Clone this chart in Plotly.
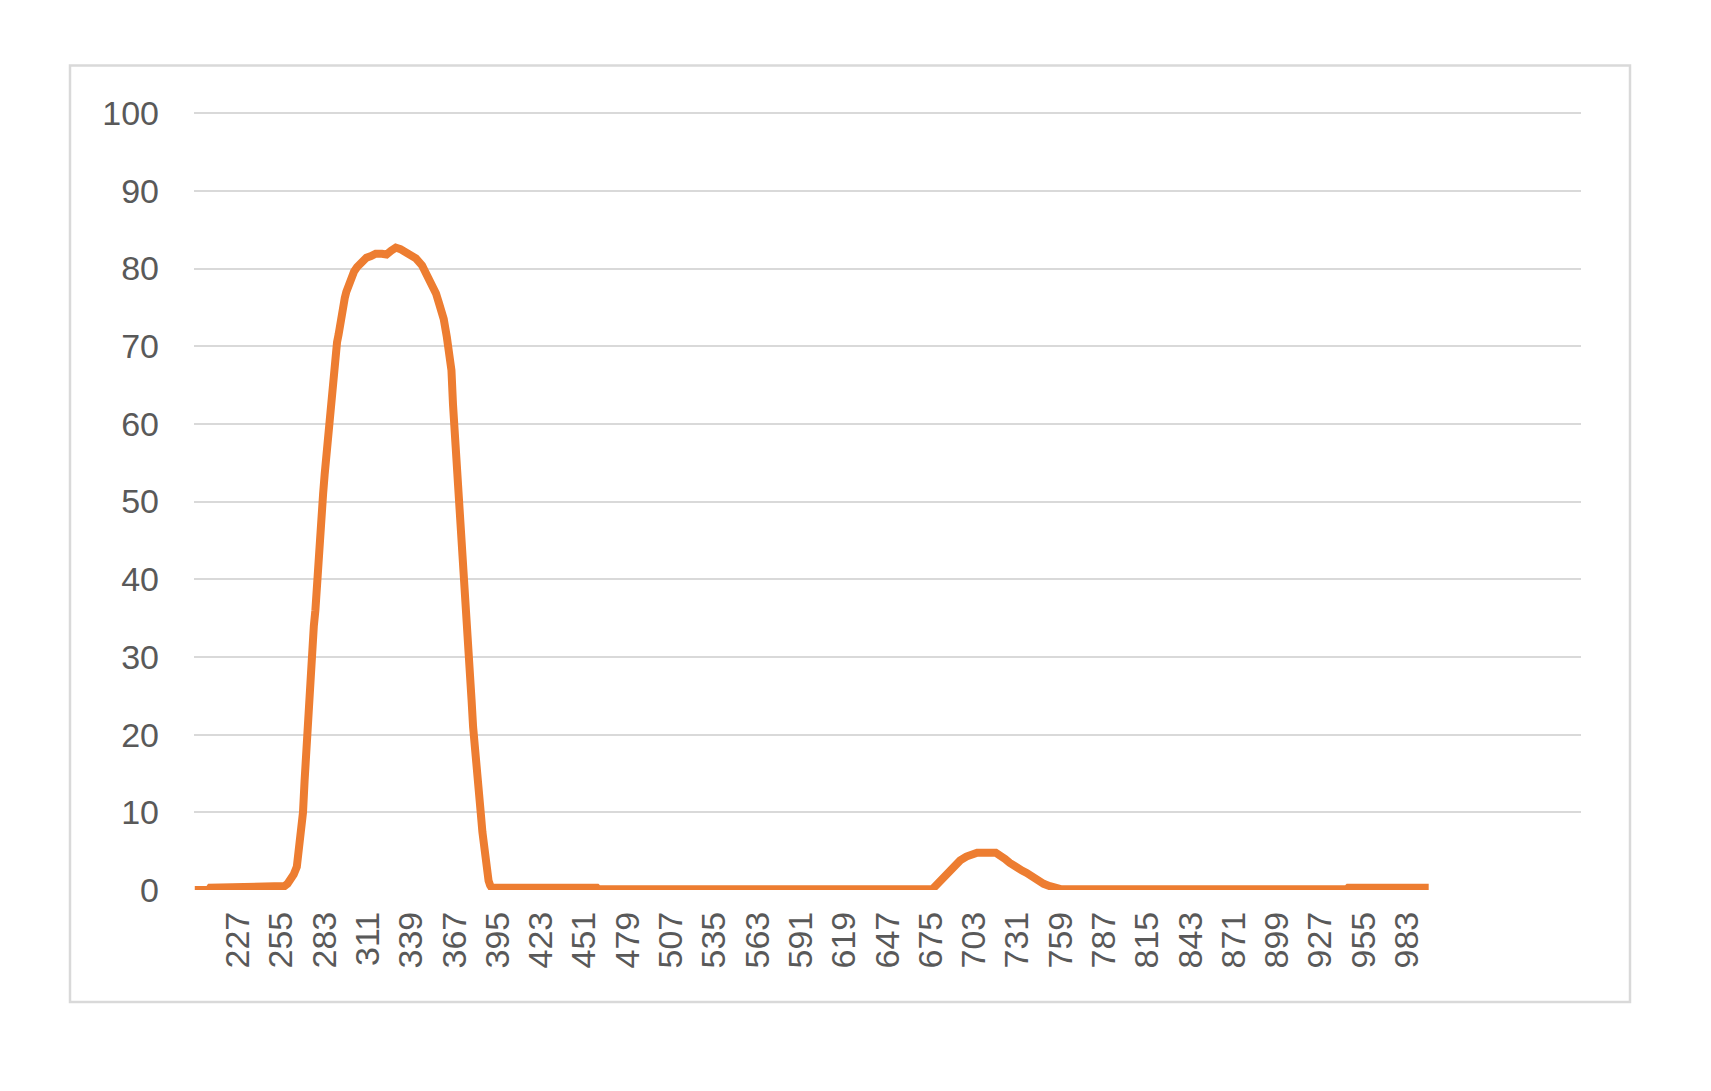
import plotly.graph_objects as go

# Wavelength (nm) and transmission (%)
wavelength = [199, 208, 209, 234, 235, 257, 259, 261, 263, 265, 267, 269, 270, 271, 272, 273, 274,
              275, 276, 277, 278, 279, 280, 281, 282, 283, 284, 285, 286, 287, 288, 289, 290,
              291, 292, 293, 294, 295, 296, 297, 298, 299, 300, 302, 304, 306, 308, 310, 313,
              316, 320, 323, 326, 329, 332, 336, 339, 342, 346, 349, 352, 355, 357, 360, 362,
              363, 364, 365, 366, 367, 368, 369, 370, 371, 372, 373, 374, 375, 376, 377, 378,
              379, 380, 381, 382, 383, 384, 385, 386, 387, 388, 389, 390, 391, 459, 460, 676,
              680, 684, 687, 690, 694, 698, 702, 705, 717, 720, 723, 726, 730, 734, 737, 741,
              745, 748, 752, 756, 759, 944, 945, 997]
transmission = [0.0, 0.0, 0.3, 0.3, 0.5, 0.5, 0.8, 1.3, 2.0, 3.0, 6.0, 10.0, 14.0, 18.0, 21.0, 23.5, 27.0,
                31.0, 34.0, 36.0, 40.0, 43.0, 45.5, 47.8, 51.0, 53.5, 56.0, 58.0, 60.0, 62.0, 65.0, 67.5, 69.0,
                70.5, 71.5, 73.0, 74.2, 75.3, 76.2, 77.0, 77.6, 78.2, 78.7, 79.6, 80.2, 80.7, 81.1, 81.4, 81.6,
                81.9, 81.9, 81.8, 82.3, 82.7, 82.5, 82.1, 81.6, 81.3, 80.4, 79.3, 78.2, 76.8, 75.5, 73.5, 71.2,
                70.2, 68.5, 66.9, 62.5, 59.5, 56.5, 51.5, 49.0, 46.0, 44.5, 42.5, 40.0, 36.0, 31.0, 28.0, 24.5,
                21.0, 18.0, 15.5, 13.5, 11.5, 9.8, 7.5, 5.5, 3.8, 2.2, 1.2, 0.6, 0.3, 0.3, 0.1, 0.1,
                0.9, 1.8, 2.6, 3.1, 3.8, 4.3, 4.7, 4.8, 4.8, 4.5, 4.0, 3.5, 2.9, 2.5, 2.2, 1.6,
                1.1, 0.8, 0.5, 0.3, 0.1, 0.1, 0.3, 0.3]

x_tick_labels = [227, 255, 283, 311, 339, 367, 395, 423, 451, 479, 507, 535, 563, 591,
                 619, 647, 675, 703, 731, 759, 787, 815, 843, 871, 899, 927, 955, 983]
y_tick_labels = [0, 10, 20, 30, 40, 50, 60, 70, 80, 90, 100]

W, H = 1711, 1091
OFF = 8  # page body margin
L, R, T, B = 194 - OFF, 130 + OFF, 112 - OFF, 201 + OFF
pw, ph = W - L - R, H - T - B
YMAX = 100.15

fig = go.Figure()
fig.add_trace(go.Scatter(
    x=wavelength, y=transmission, mode="lines",
    line=dict(color="#ED7D31", width=8),
    showlegend=False, hoverinfo="skip",
))

font = dict(family="Liberation Sans, Arial, sans-serif", size=34, color="#595959")

bx0, bx1, by0, by1 = 70 - OFF, 1630 - OFF, 1002 - OFF, 65.5 - OFF
fig.update_layout(
    width=W, height=H,
    margin=dict(l=L, r=R, t=T, b=B, pad=0),
    paper_bgcolor="white", plot_bgcolor="white",
    xaxis=dict(
        range=[198.5, 1095.5], tickmode="array",
        tickvals=x_tick_labels, ticktext=[str(v) for v in x_tick_labels],
        tickangle=-90, tickfont=font, showgrid=False, zeroline=False,
        showline=False, ticks="", ticklabelstandoff=14,
    ),
    yaxis=dict(
        range=[0, YMAX], tickmode="array", tickvals=y_tick_labels,
        tickfont=font, showgrid=True, gridcolor="#D9D9D9", gridwidth=2,
        zeroline=False, showline=False, ticks="", ticklabelstandoff=34,
    ),
    shapes=[dict(
        type="rect", xref="paper", yref="paper",
        x0=(bx0 - L) / pw, x1=(bx1 - L) / pw,
        y0=(H - B - by0) / ph, y1=(H - B - by1) / ph,
        line=dict(color="#D9D9D9", width=2.5), fillcolor="rgba(0,0,0,0)", layer="below",
    )],
)

fig.write_html("out.html")
